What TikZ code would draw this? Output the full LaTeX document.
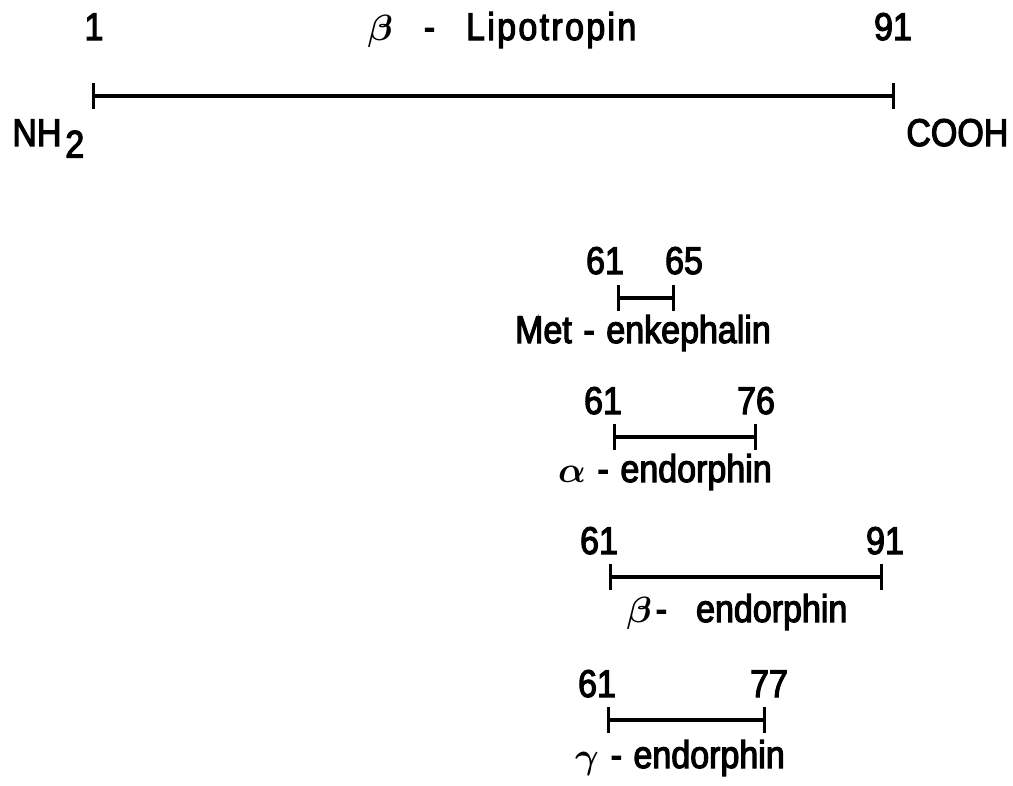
\documentclass[tikz,border=0pt]{standalone}
\usepackage{bm}
\usepackage{fontspec}
\setmainfont{Liberation Sans}[FakeBold=3,FakeStretch=0.88]
\usetikzlibrary{arrows.meta}
\newcommand{\gk}[1]{$\bm{#1}$}
\newcommand{\dsh}{\hspace{0.3em}-\hspace{0.3em}}
\begin{document}
\begin{tikzpicture}[x=0.02cm,y=-0.02cm,
  lbl/.style={anchor=base,inner sep=0pt,font=\fontsize{22}{26}\selectfont},
  seg/.style={line width=1.8pt,{Bar[width=14.5pt,line width=1.8pt]}-{Bar[width=14.5pt,line width=1.8pt]}}]
\useasboundingbox (0,0) rectangle (1013,785);
% main chain
\coordinate (a1) at (92,96);
\coordinate (a2) at (895,96);
\draw[seg] (a1) -- (a2);
\node[lbl] (n1) at (94,40) {1};
\node[lbl] (n91) at (893,40) {91};
\node[lbl] (title) at (502,40) {\gk\beta\hspace{0.8em}-\hspace{0.8em}L\hspace{0.06em}i\hspace{0.06em}p\hspace{0.06em}o\hspace{0.06em}t\hspace{0.06em}r\hspace{0.06em}o\hspace{0.06em}p\hspace{0.06em}i\hspace{0.06em}n};
\node[lbl,anchor=base west] (nh2) at (12,146) {NH\hspace{0.1em}\raisebox{-0.3em}{2}};
\node[lbl,anchor=base west] (cooh) at (906,146) {COOH};
% Met-enkephalin
\coordinate (m1) at (617,298);
\coordinate (m2) at (675,298);
\draw[seg] (m1) -- (m2);
\node[lbl] (m61) at (605,274) {61};
\node[lbl] (m65) at (684,274) {65};
\node[lbl] (mlab) at (643,343) {Met\dsh enkephalin};
% alpha
\coordinate (al1) at (613,437);
\coordinate (al2) at (757,437);
\draw[seg] (al1) -- (al2);
\node[lbl] (al61) at (603,414) {61};
\node[lbl] (al76) at (756,414) {76};
\node[lbl] (allab) at (665,482) {\gk\alpha\dsh endorphin};
% beta
\coordinate (b1) at (609,577);
\coordinate (b2) at (883,577);
\draw[seg] (b1) -- (b2);
\node[lbl] (b61) at (599,554) {61};
\node[lbl] (b91) at (885,554) {91};
\node[lbl] (blab) at (737,622) {\gk\beta\hspace{0.1em}-\hspace{0.75em}endorphin};
% gamma
\coordinate (g1) at (607,720);
\coordinate (g2) at (766,720);
\draw[seg] (g1) -- (g2);
\node[lbl] (g61) at (597,697) {61};
\node[lbl] (g77) at (769,697) {77};
\node[lbl] (glab) at (680,768) {\gk\gamma\dsh endorphin};
\end{tikzpicture}
\end{document}
